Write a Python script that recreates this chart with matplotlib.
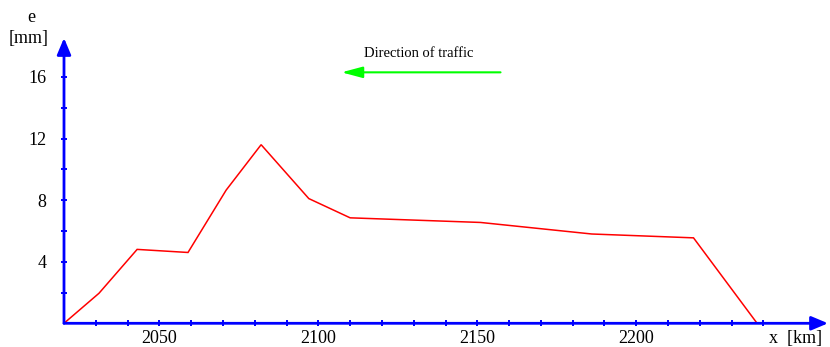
import numpy as np
import matplotlib
matplotlib.use("Agg")
import matplotlib.pyplot as plt

plt.rcParams['font.family'] = ['Liberation Serif', 'DejaVu Serif']

# chainage along the track [km] and measured deviation e [mm]
x_km = [2020, 2031, 2043, 2059, 2071, 2082, 2097, 2110, 2151, 2186, 2218, 2238]
e_mm = [0, 1.95, 4.8, 4.6, 8.65, 11.6, 8.1, 6.85, 6.55, 5.8, 5.55, 0]

x_major = [2050, 2100, 2150, 2200]
x_minor = [v for v in range(2030, 2260, 10) if v % 50]
y_major = [4, 8, 12, 16]
y_minor = [2, 6, 10, 14]

fig = plt.figure(figsize=(8.3, 3.47), dpi=100)
ax = fig.add_axes([64 / 830, 23.7 / 347, 764 / 830, 285.3 / 347])

ax.plot(x_km, e_mm, color='red', lw=1.1, solid_joinstyle='miter')

ax.set_xlim(2020, 2260.3)
ax.set_ylim(0, 18.53)

for s in ax.spines.values():
    s.set_visible(False)

ax.set_xticks(x_major)
ax.set_xticks(x_minor, minor=True)
ax.set_yticks(y_major)
ax.set_yticks(y_minor, minor=True)
ax.tick_params(which='both', direction='inout', length=5, width=1.4, color='blue',
               labelsize=13)
ax.tick_params(axis='x', pad=2.5)
ax.tick_params(axis='y', pad=10)

# blue axes with arrow heads
arrow_kw = dict(arrowstyle='-|>,head_length=1.0,head_width=0.42', color='blue',
                lw=2.0, shrinkA=0, shrinkB=0)
ax.annotate('', xy=(1, 0), xytext=(0, 0), xycoords='axes fraction',
            textcoords='axes fraction', arrowprops=arrow_kw)
ax.annotate('', xy=(0, 1), xytext=(0, 0), xycoords='axes fraction',
            textcoords='axes fraction', arrowprops=arrow_kw)

# axis titles
fig.text(31 / 830, 1 - 18 / 347, 'e', ha='center', va='center', fontsize=13)
fig.text(28.5 / 830, 1 - 38 / 347, '[mm]', ha='center', va='center', fontsize=13)
fig.text(796 / 830, 1 - 338 / 347, 'x  [km]', ha='center', va='center', fontsize=13)

# direction of traffic
ax.annotate('', xy=(2107.3, 16.3), xytext=(2157.3, 16.3),
            arrowprops=dict(arrowstyle='-|>,head_length=1.27,head_width=0.34',
                            color='#00ff00', lw=1.5, shrinkA=0, shrinkB=0))
ax.text(2131.6, 17.55, 'Direction of traffic', ha='center', va='center', fontsize=10.5)

fig.savefig('out.png', dpi=100)
